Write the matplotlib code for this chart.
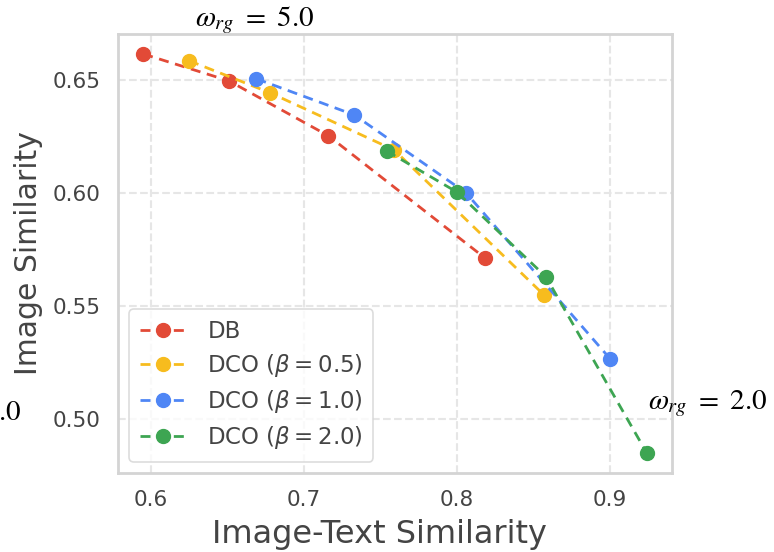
import matplotlib
matplotlib.use("Agg")
import matplotlib.pyplot as plt
import seaborn as sns

# values
db_x = [0.595, 0.651, 0.716, 0.818]
db_y = [0.6615, 0.6496, 0.6253, 0.5714]

dco05_x = [0.625, 0.678, 0.759, 0.857]
dco05_y = [0.6585, 0.6443, 0.6190, 0.5548]

dco10_x = [0.669, 0.733, 0.806, 0.900]
dco10_y = [0.6505, 0.6345, 0.6000, 0.5267]

dco20_x = [0.754, 0.800, 0.858, 0.924]
dco20_y = [0.6186, 0.6004, 0.5630, 0.4850]

labels = ["DB", r"DCO ($\beta=0.5$)", r"DCO ($\beta=1.0$)", r"DCO ($\beta=2.0$)"]
colors = ["#E24A37", "#F7BC1E", "#4F86F5", "#3DA552"]

sns.set_style("whitegrid")
plt.rcParams["font.family"] = ["DejaVu Sans"]
plt.rcParams["mathtext.fontset"] = "dejavusans"

fig = plt.figure(figsize=(7.74, 5.52), dpi=100)
ax = fig.add_axes([118 / 774, 1 - 473 / 552, (672 - 118) / 774, (473 - 34) / 552])

series = [(db_x, db_y), (dco05_x, dco05_y), (dco10_x, dco10_y), (dco20_x, dco20_y)]
for (xs, ys), lab, c in zip(series, labels, colors):
    ax.plot(xs, ys, "--o", color=c, label=lab, linewidth=2.0, markersize=10,
            dashes=(3.6, 2.4))

ax.set_xticks([0.6, 0.7, 0.8, 0.9])
ax.set_yticks([0.50, 0.55, 0.60, 0.65])
ax.set_xticklabels(["0.6", "0.7", "0.8", "0.9"])
ax.set_yticklabels(["0.50", "0.55", "0.60", "0.65"])
ax.tick_params(labelsize=15.5, colors="#444444", pad=9)

ax.set_xlabel("Image-Text Similarity", fontsize=23, color="#444444", labelpad=3)
ax.set_ylabel("Image Similarity", fontsize=21.5, color="#444444", labelpad=7)
ax.xaxis.set_label_coords((380 - 118) / 554, -0.105)

ax.grid(True, linestyle="--", color="#e6e6e6", linewidth=1.5)
for sp in ax.spines.values():
    sp.set_color("#d4d4d4")
    sp.set_linewidth(2)

leg = ax.legend(loc="lower left", fontsize=16.5, frameon=True, handlelength=2.0,
                handletextpad=0.95, borderpad=0.45, labelspacing=0.4,
                borderaxespad=0.5)
leg.get_frame().set_edgecolor("#d4d4d4")
leg.get_frame().set_linewidth(1.2)
for t in leg.get_texts():
    t.set_color("#444444")

# omega annotations in serif math
ann = dict(fontsize=21, color="black", math_fontfamily="stix")
fig.text(255 / 774, 1 - 20 / 552, r"$\omega_{rg}\ =\ 5.0$", ha="center", va="center", **ann)
fig.text(768 / 774, 1 - 404 / 552, r"$\omega_{rg}\ =\ 2.0$", ha="right", va="center", **ann)
fig.text(22 / 774, 1 - 414 / 552, r"$\omega_{rg}\ =\ 1.0$", ha="right", va="center", **ann)

fig.savefig("out.png", dpi=100)
